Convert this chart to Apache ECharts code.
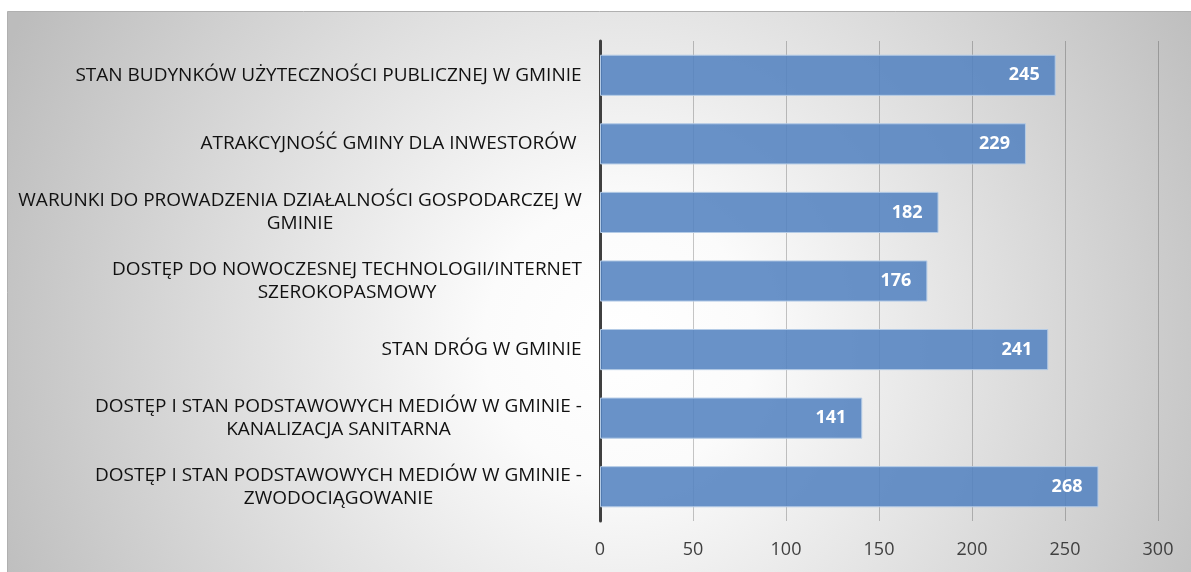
<!DOCTYPE html>
<html>
<head>
<meta charset="utf-8">
<script src="https://cdn.jsdelivr.net/npm/echarts@6/dist/echarts.min.js"></script>
<style>
  html, body { margin: 0; padding: 0; background: #fff; }
  #chart { width: 1191px; height: 572px; }
</style>
</head>
<body>
<div id="chart"></div>
<script>
// Categories, top to bottom
const categories = [
  'STAN BUDYNKÓW UŻYTECZNOŚCI PUBLICZNEJ W GMINIE',
  'ATRAKCYJNOŚĆ GMINY DLA INWESTORÓW ',
  'WARUNKI DO PROWADZENIA DZIAŁALNOŚCI GOSPODARCZEJ W\nGMINIE',
  'DOSTĘP DO NOWOCZESNEJ TECHNOLOGII/INTERNET\nSZEROKOPASMOWY',
  'STAN DRÓG W GMINIE',
  'DOSTĘP I STAN PODSTAWOWYCH MEDIÓW W GMINIE -\nKANALIZACJA SANITARNA',
  'DOSTĘP I STAN PODSTAWOWYCH MEDIÓW W GMINIE -\nZWODOCIĄGOWANIE'
];
const values = [245, 229, 182, 176, 241, 141, 268];

const font = '"Open Sans", sans-serif';
const labelSize = 19;

// wrapped labels are centred line by line, so give each label a box as wide as its longest line
const ctx = document.createElement('canvas').getContext('2d');
ctx.font = labelSize + 'px ' + font;
const rich = {};
categories.forEach((c, i) => {
  const w = Math.max(...c.split('\n').map(s => ctx.measureText(s).width));
  rich['l' + i] = { width: Math.ceil(w), align: 'center', fontSize: labelSize, fontFamily: font, color: '#111', lineHeight: 23 };
});

const chart = echarts.init(document.getElementById('chart'));
chart.setOption({
  animation: false,
  graphic: [
    {
      type: 'rect',
      z: -10,
      silent: true,
      shape: { x: 7.5, y: 11.5, width: 1200, height: 600 },
      style: {
        fill: {
          type: 'radial', global: true,
          x: 620, y: 340, r: 680,
          colorStops: [
            { offset: 0, color: '#ffffff' },
            { offset: 0.2, color: '#fbfbfb' },
            { offset: 1, color: '#bcbcbc' }
          ]
        },
        stroke: '#b0b0b0',
        lineWidth: 1
      }
    }
  ],
  grid: { left: 600, right: 33, top: 41, bottom: 51 },
  xAxis: {
    type: 'value',
    min: 0,
    max: 300,
    interval: 50,
    axisLine: { show: false },
    axisTick: { show: false },
    splitLine: { lineStyle: { color: 'rgba(0,0,0,0.22)', width: 1 } },
    axisLabel: { color: '#404040', fontSize: 18, fontFamily: font, margin: 20 }
  },
  yAxis: {
    type: 'category',
    inverse: true,
    data: categories,
    axisLine: { show: true, lineStyle: { color: '#404040', width: 3 } },
    axisTick: { show: false },
    axisLabel: {
      color: '#111', fontSize: labelSize, fontFamily: font, margin: 18,
      lineHeight: 23, align: 'right',
      formatter: (v, i) => v.split('\n').map(s => '{l' + i + '|' + s + '}').join('\n'),
      rich: rich
    }
  },
  series: [
    {
      type: 'bar',
      data: values,
      barCategoryGap: '40%',
      itemStyle: {
        color: 'rgba(84,131,192,0.88)',
        borderColor: '#b4cbe6',
        borderWidth: 1
      },
      label: {
        show: true,
        position: 'insideRight',
        distance: 16,
        color: '#fff',
        fontWeight: 'bold',
        fontSize: 18,
        fontFamily: font
      }
    }
  ]
});
</script>
</body>
</html>
